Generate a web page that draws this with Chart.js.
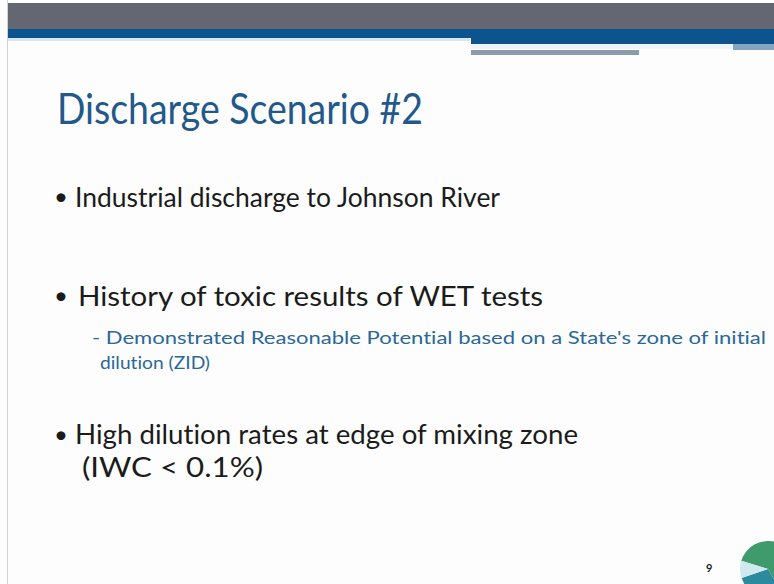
<!DOCTYPE html>
<html>
<head>
<meta charset="utf-8">
<script src="https://cdn.jsdelivr.net/npm/chart.js@4.4.0/dist/chart.umd.min.js"></script>
<style>
  html, body { margin: 0; padding: 0; }
  body { width: 774px; height: 584px; background: #fdfdfd; position: relative; overflow: hidden; font-family: Lato, "Open Sans", sans-serif; }
  .band { position: absolute; }
  .txt { position: absolute; white-space: nowrap; line-height: 1; transform-origin: 0 0; font-variant-ligatures: none; }
  #logo { position: absolute; left: 740px; top: 541px; }
</style>
</head>
<body>
<div class="band" style="left:7px;top:0;width:767px;height:584px;border-left:1px solid #cfd3d8;"></div>
<div class="band" style="left:8px;top:3px;width:766px;height:26px;background:#646671;"></div>
<div class="band" style="left:8px;top:29px;width:766px;height:9px;background:#0c548d;"></div>
<div class="band" style="left:8px;top:38px;width:462px;height:3px;background:#d6e6f2;"></div>
<div class="band" style="left:471px;top:38px;width:303px;height:6px;background:#0c548d;"></div>
<div class="band" style="left:471px;top:44px;width:262px;height:5px;background:#eef4f8;"></div>
<div class="band" style="left:733px;top:44px;width:41px;height:6px;background:#86a3bf;"></div>
<div class="band" style="left:471px;top:50px;width:168px;height:5px;background:#8b9bab;"></div>

<div id="slide"></div>
<canvas id="logo" width="56" height="56"></canvas>

<script>
// texto de la diapositiva
const titulo = 'Discharge Scenario #2';
const vinetas = [
  'Industrial discharge to Johnson River',
  'History of toxic results of WET tests',
  'High dilution rates at edge of mixing zone'
];
const subVineta = [
  '- Demonstrated Reasonable Potential based on a State\'s zone of initial',
  'dilution (ZID)'
];
const notaIWC = '(IWC < 0.1%)';
const numPagina = '9';
// segmentos del logo
const logoEtiquetas = ['tierra', 'agua', 'ola'];
const logoValores = [62, 28, 10];

// x, baseline, ancho, tamaño, color
function ponerTexto(texto, x, base, ancho, tam, color, peso) {
    const el = document.createElement('div');
    el.className = 'txt';
    el.textContent = texto;
    el.style.fontSize = tam + 'px';
    el.style.color = color;
    if (peso) el.style.fontWeight = peso;
    el.style.left = x + 'px';
    el.style.top = (base - tam * 0.887) + 'px';
    document.getElementById('slide').appendChild(el);
    if (ancho) {
        const w = el.getBoundingClientRect().width;
        el.style.transform = 'scaleX(' + (ancho / w) + ')';
    }
    return el;
}

ponerTexto(titulo, 57, 124, 366, 42, '#22588a');

const negro = '#1b1b1b';
ponerTexto('•', 54, 205, null, 24, negro);
ponerTexto(vinetas[0], 75, 207, 425, 27, negro);
ponerTexto('•', 54, 304, null, 24, negro);
ponerTexto(vinetas[1], 78, 306, 465, 27, negro);
ponerTexto(subVineta[0], 92, 344, 674, 18, '#2a6897');
ponerTexto(subVineta[1], 100, 369, 110, 18, '#2a6897');
ponerTexto('•', 54, 443, null, 24, negro);
ponerTexto(vinetas[2], 75, 444, 503, 27, negro);
ponerTexto(notaIWC, 82, 477, 181, 27, negro);
ponerTexto(numPagina, 706, 572, null, 11, '#222', 'bold');

new Chart(document.getElementById('logo'), {
    type: 'doughnut',
    data: {
        labels: logoEtiquetas,
        datasets: [{
            data: logoValores,
            backgroundColor: ['#3f9a6c', '#2c8a9e', '#cfe9ee'],
            borderWidth: 0
        }]
    },
    options: {
        responsive: false,
        animation: false,
        cutout: '0%',
        rotation: 287,
        plugins: { legend: { display: false }, tooltip: { enabled: false } }
    }
});
</script>
</body>
</html>
